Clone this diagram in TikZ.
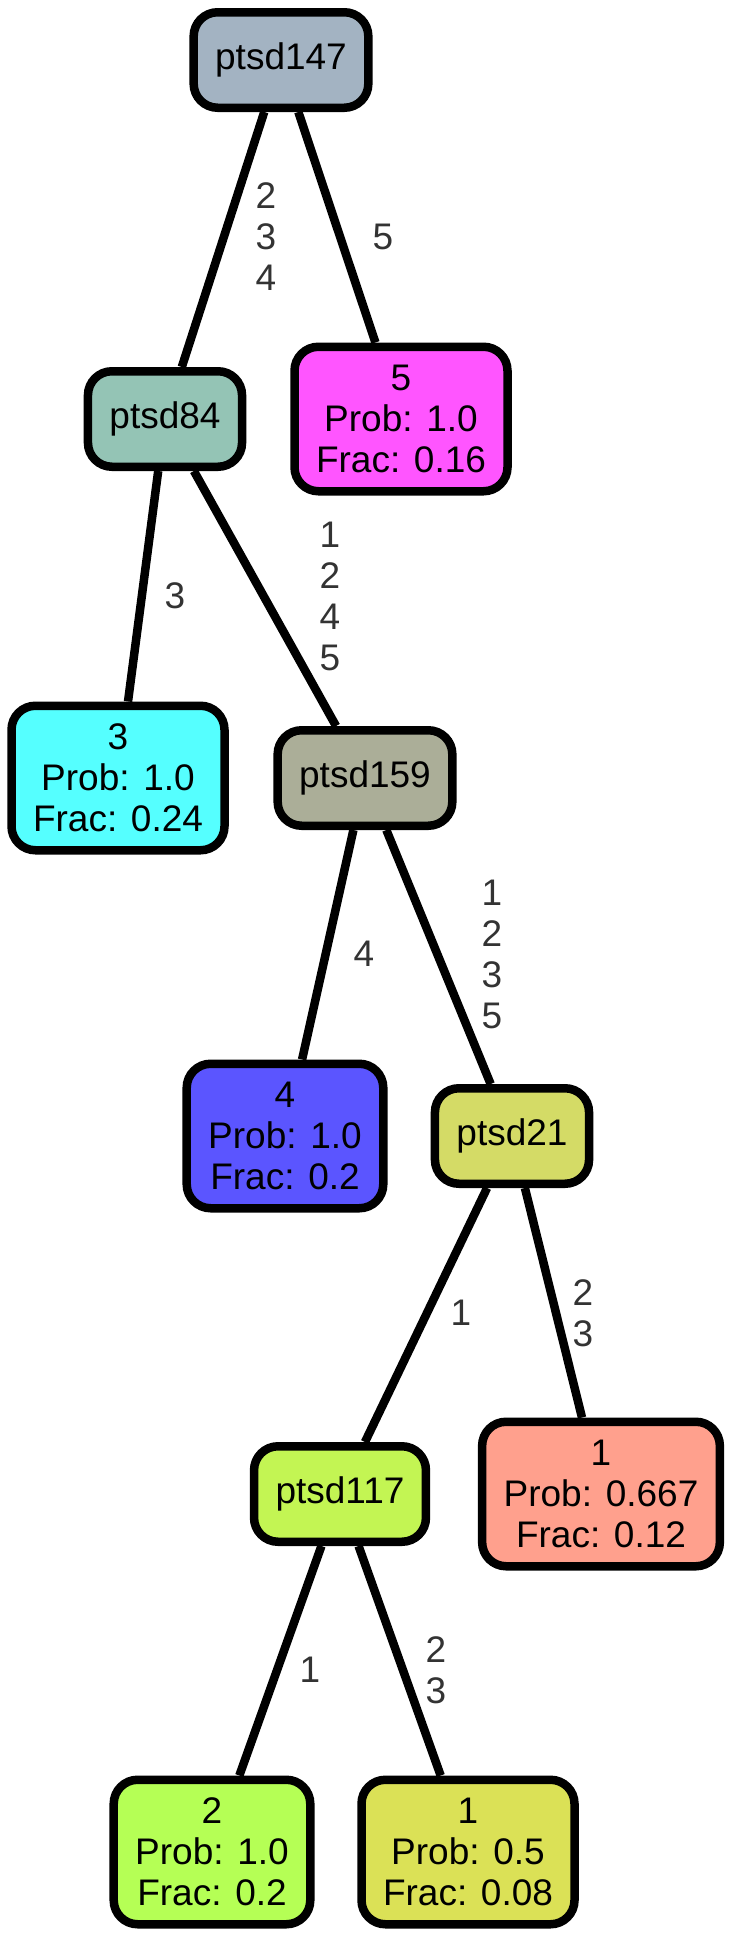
\documentclass[tikz,border=0pt]{standalone}
\usepackage{fontspec}
\setmainfont{Liberation Sans}
\definecolor{c147}{HTML}{A3B3C2}
\definecolor{c84}{HTML}{94C4B5}
\definecolor{c159}{HTML}{ABAE98}
\definecolor{c21}{HTML}{D4DB66}
\definecolor{c117}{HTML}{C3F553}
\definecolor{cfive}{HTML}{FF55FF}
\definecolor{cthree}{HTML}{55FFFF}
\definecolor{cfour}{HTML}{5B55FF}
\definecolor{csalmon}{HTML}{FFA08D}
\definecolor{ctwo}{HTML}{B5FF55}
\definecolor{cone}{HTML}{DBE156}
\definecolor{labelgray}{HTML}{333333}
\tikzset{
  split/.style={draw=black, line width=4.25pt, rounded corners=12pt,
    inner xsep=10.75pt, minimum height=47.75pt,
    font=\fontsize{18.5}{20.5}\selectfont},
  leaf/.style={split, align=center, minimum height=72.25pt},
  lbl/.style={text=labelgray, align=center,
    font=\fontsize{18.5}{20.5}\selectfont},
  link/.style={draw=black, line width=4.25pt},
}
\begin{document}
\begin{tikzpicture}[x=0.5pt, y=-0.5pt]
        \useasboundingbox (0,0) rectangle (732,1938);

        \node[split, fill=c147] (p147) at (281,60) {ptsd147};
        \node[split, fill=c84] (p84) at (165,419) {ptsd84};
        \node[leaf, fill=cfive] (leaf5) at (401,419) {5\\Prob: 1.0\\Frac: 0.16};
        \node[leaf, fill=cthree] (leaf3) at (118,778) {3\\Prob: 1.0\\Frac: 0.24};
        \node[split, fill=c159] (p159) at (365,778) {ptsd159};
        \node[leaf, fill=cfour] (leaf4) at (285,1136) {4\\Prob: 1.0\\Frac: 0.2};
        \node[split, fill=c21] (p21) at (512,1136) {ptsd21};
        \node[split, fill=c117] (p117) at (340,1494) {ptsd117};
        \node[leaf, fill=csalmon] (leaf1a) at (601,1494) {1\\Prob: 0.667\\Frac: 0.12};
        \node[leaf, fill=ctwo] (leaf2) at (212,1852) {2\\Prob: 1.0\\Frac: 0.2};
        \node[leaf, fill=cone] (leaf1b) at (468,1852) {1\\Prob: 0.5\\Frac: 0.08};

        \path [link] (p147) edge (p84);
        \path [link] (p147) edge (leaf5);
        \path [link] (p84) edge (leaf3);
        \path [link] (p84) edge (p159);
        \path [link] (p159) edge (leaf4);
        \path [link] (p159) edge (p21);
        \path [link] (p21) edge (p117);
        \path [link] (p21) edge (leaf1a);
        \path [link] (p117) edge (leaf2);
        \path [link] (p117) edge (leaf1b);

        \node[lbl] (e234) at (266,237) {2\\3\\4};
        \node[lbl] (e5) at (383,237) {5};
        \node[lbl] (e3) at (175,596) {3};
        \node[lbl] (e1245) at (330,596) {1\\2\\4\\5};
        \node[lbl] (e4) at (364,954) {4};
        \node[lbl] (e1235) at (492,954) {1\\2\\3\\5};
        \node[lbl] (e1) at (461,1313) {1};
        \node[lbl] (e23) at (583,1313) {2\\3};
        \node[lbl] (e1low) at (310,1670) {1};
        \node[lbl] (e23low) at (436,1670) {2\\3};
\end{tikzpicture}
\end{document}
